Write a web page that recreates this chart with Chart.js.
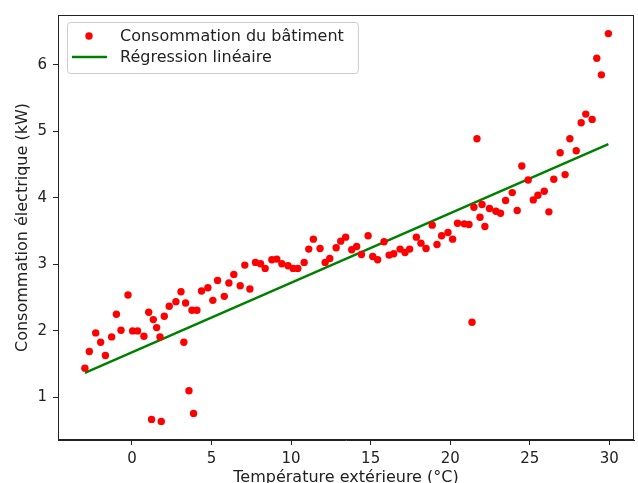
<!DOCTYPE html>
<html>
<head>
<meta charset="utf-8">
<script src="https://cdn.jsdelivr.net/npm/chart.js@4"></script>
<style>
  html, body { margin: 0; padding: 0; background: #fff; overflow: hidden; }
</style>
</head>
<body>
<canvas id="regChart" width="638" height="483"></canvas>
<script>
// Temperature (°C) and consumption (kW)
const temperatures = [
  -2.96, -2.68, -2.28, -1.97, -1.67, -1.28, -0.98, -0.69, -0.25, 0.04,
  0.35, 0.75, 1.05, 1.23, 1.34, 1.55, 1.76, 1.84, 2.03, 2.34,
  2.76, 3.08, 3.26, 3.37, 3.58, 3.77, 3.87, 4.08, 4.37, 4.77,
  5.08, 5.38, 5.80, 6.09, 6.40, 6.80, 7.09, 7.41, 7.76, 8.08,
  8.37, 8.79, 9.10, 9.42, 9.81, 10.13, 10.42, 10.82, 11.11, 11.40,
  11.82, 12.14, 12.43, 12.83, 13.12, 13.43, 13.81, 14.12, 14.42, 14.84,
  15.13, 15.44, 15.84, 16.16, 16.45, 16.85, 17.16, 17.45, 17.87, 18.16,
  18.48, 18.87, 19.17, 19.46, 19.86, 20.15, 20.46, 20.88, 21.18, 21.37,
  21.49, 21.68, 21.87, 22.00, 22.18, 22.47, 22.87, 23.16, 23.48, 23.90,
  24.21, 24.50, 24.90, 25.22, 25.51, 25.91, 26.20, 26.51, 26.91, 27.22,
  27.52, 27.92, 28.23, 28.52, 28.92, 29.21, 29.50, 29.94
];
const consumption = [
  1.44, 1.69, 1.97, 1.83, 1.63, 1.91, 2.25, 2.01, 2.54, 2.00,
  2.00, 1.92, 2.28, 0.67, 2.17, 2.05, 1.91, 0.64, 2.22, 2.37,
  2.44, 2.59, 1.83, 2.42, 1.10, 2.31, 0.76, 2.31, 2.60, 2.65,
  2.46, 2.76, 2.52, 2.72, 2.85, 2.68, 2.99, 2.63, 3.03, 3.01,
  2.94, 3.07, 3.08, 3.01, 2.98, 2.94, 2.94, 3.03, 3.23, 3.38,
  3.24, 3.03, 3.09, 3.25, 3.35, 3.41, 3.22, 3.27, 3.15, 3.43,
  3.12, 3.07, 3.34, 3.14, 3.16, 3.23, 3.18, 3.23, 3.41, 3.32,
  3.24, 3.59, 3.30, 3.43, 3.48, 3.38, 3.62, 3.61, 3.60, 2.13,
  3.86, 4.89, 3.71, 3.90, 3.57, 3.84, 3.80, 3.77, 3.96, 4.08,
  3.81, 4.48, 4.27, 3.97, 4.04, 4.10, 3.79, 4.28, 4.68, 4.35,
  4.89, 4.71, 5.13, 5.26, 5.18, 6.10, 5.85, 6.47
];

// regression line end points
const regTemps = [-2.96, 29.94];
const regValues = [1.37, 4.81];

const xTicks = [0, 5, 10, 15, 20, 25, 30];
const yTicks = [1, 2, 3, 4, 5, 6];

const FONT = 'DejaVu Sans, sans-serif';

document.addEventListener('DOMContentLoaded', function() {
  const ctx = document.getElementById('regChart').getContext('2d');

  // box around the plot + legend drawn matplotlib style
  const frameAndLegend = {
    id: 'frameAndLegend',
    afterDraw(chart) {
      const c = chart.ctx;
      const a = chart.chartArea;
      c.save();
      c.strokeStyle = '#222';
      c.lineWidth = 1;
      c.strokeRect(Math.round(a.left) + 0.5, Math.round(a.top) + 0.5,
        Math.round(a.right - a.left) - 1, Math.round(a.bottom - a.top) - 1);

      const sets = chart.data.datasets;
      c.font = '16px ' + FONT;
      const widths = sets.map(s => c.measureText(s.label).width);
      const bx = a.left + 9, by = a.top + 7;
      const bw = 62 + Math.max(...widths) + 5, bh = 51;
      c.fillStyle = 'rgba(255,255,255,0.8)';
      c.strokeStyle = '#cccccc';
      c.beginPath();
      c.roundRect(bx + 0.5, by + 0.5, bw, bh, 3);
      c.fill();
      c.stroke();

      c.textBaseline = 'middle';
      c.textAlign = 'left';
      sets.forEach((s, i) => {
        const cy = by + 14 + i * 21;
        if (s.showLine) {
          c.strokeStyle = s.borderColor;
          c.lineWidth = 2.5;
          c.beginPath();
          c.moveTo(bx + 5, cy);
          c.lineTo(bx + 40, cy);
          c.stroke();
        } else {
          c.fillStyle = s.backgroundColor;
          c.beginPath();
          c.arc(bx + 22, cy, 3.7, 0, Math.PI * 2);
          c.fill();
        }
        c.fillStyle = '#222';
        c.fillText(s.label, bx + 53, cy + 1);
      });
      c.restore();
    }
  };

  new Chart(ctx, {
    type: 'scatter',
    data: {
      datasets: [{
        label: 'Consommation du bâtiment',
        data: temperatures.map((t, i) => ({ x: t, y: consumption[i] })),
        backgroundColor: '#ff0000',
        borderColor: '#ff0000',
        pointRadius: 3.7,
        pointBorderWidth: 0,
        pointHoverRadius: 3.7,
        showLine: false
      }, {
        label: 'Régression linéaire',
        data: regTemps.map((t, i) => ({ x: t, y: regValues[i] })),
        borderColor: '#008000',
        backgroundColor: '#008000',
        borderWidth: 2.5,
        pointRadius: 0,
        showLine: true
      }]
    },
    options: {
      responsive: false,
      animation: false,
      layout: { padding: { top: 12, right: 4, left: 0, bottom: 0 } },
      plugins: {
        legend: { display: false },
        tooltip: { enabled: false }
      },
      scales: {
        x: {
          type: 'linear',
          min: -4.65,
          max: 31.55,
          afterBuildTicks: scale => { scale.ticks = xTicks.map(v => ({ value: v })); },
          afterFit: scale => { scale.height = 43; },
          border: { color: '#222', width: 1 },
          grid: { drawOnChartArea: false, drawTicks: true, tickLength: 5, color: '#222' },
          ticks: { color: '#222', padding: 5, maxRotation: 0, font: { family: FONT, size: 15 } },
          title: {
            display: true,
            text: 'Température extérieure (°C)',
            color: '#222',
            font: { family: FONT, size: 16 },
            padding: { top: 0, bottom: -4 }
          }
        },
        y: {
          type: 'linear',
          min: 0.36,
          max: 6.75,
          afterBuildTicks: scale => { scale.ticks = yTicks.map(v => ({ value: v })); },
          afterFit: scale => { scale.width = 58; },
          border: { color: '#222', width: 1 },
          grid: { drawOnChartArea: false, drawTicks: true, tickLength: 5, color: '#222' },
          ticks: { color: '#222', padding: 6, font: { family: FONT, size: 15 } },
          title: {
            display: true,
            text: 'Consommation électrique (kW)',
            color: '#222',
            font: { family: FONT, size: 16 },
            padding: { top: 13, bottom: 0 }
          }
        }
      }
    },
    plugins: [frameAndLegend]
  });
});
</script>
</body>
</html>
